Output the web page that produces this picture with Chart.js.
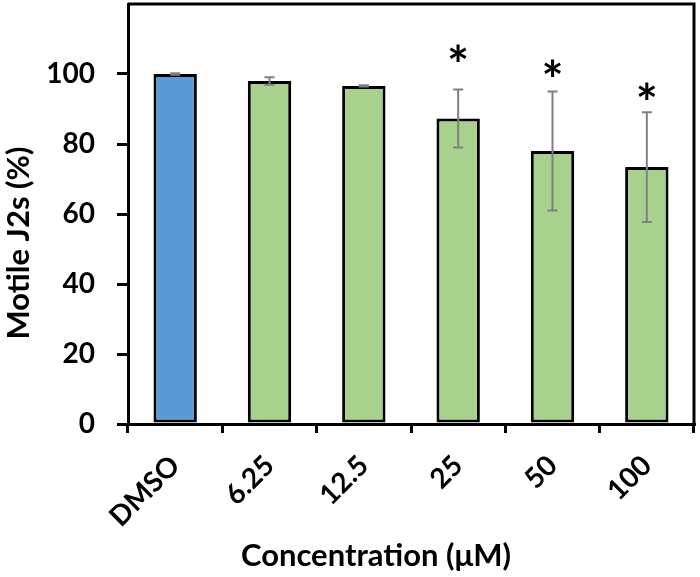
<!DOCTYPE html>
<html>
<head>
<meta charset="utf-8">
<script src="https://cdn.jsdelivr.net/npm/chart.js@4/dist/chart.umd.min.js"></script>
<style>
html,body{margin:0;padding:0;background:#fff;}
#wrap{width:700px;height:577px;}
</style>
</head>
<body>
<div id="wrap"><canvas id="c" width="700" height="577"></canvas></div>
<script>
const categories = ["DMSO", "6.25", "12.5", "25", "50", "100"];
const motile = [100, 98, 96.6, 87.3, 78, 73.4];
const errors = [0.2, 1.1, 0.2, 8.3, 17, 15.7];
const starLabels = ["", "", "", "*", "*", "*"];
const starValues = [null, null, null, 104.7, 100.4, 93.9];
const yTicks = [0, 20, 40, 60, 80, 100];
const barColors = ["#5b9bd5", "#a9d18e", "#a9d18e", "#a9d18e", "#a9d18e", "#a9d18e"];
const xTitle = "Concentration (μM)";
const yTitle = "Motile J2s (%)";

const FONT = "Lato, 'Open Sans', sans-serif";

const errorBarPlugin = {
  id: 'errorBars',
  afterDatasetsDraw(chart) {
    const ctx = chart.ctx, x = chart.scales.x, y = chart.scales.y;
    ctx.save();
    ctx.strokeStyle = '#808080';
    ctx.lineWidth = 2;
    motile.forEach((v, i) => {
      const cx = x.getPixelForValue(i);
      const yt = y.getPixelForValue(v + errors[i]);
      const yb = y.getPixelForValue(v - errors[i]);
      ctx.beginPath();
      ctx.moveTo(cx, yt); ctx.lineTo(cx, yb);
      ctx.moveTo(cx - 5, yt); ctx.lineTo(cx + 5, yt);
      ctx.moveTo(cx - 5, yb); ctx.lineTo(cx + 5, yb);
      ctx.stroke();
    });
    ctx.fillStyle = '#000';
    ctx.font = "bold 52px " + FONT;
    ctx.textAlign = 'center';
    ctx.textBaseline = 'middle';
    starLabels.forEach((s, i) => {
      if (!s) return;
      ctx.fillText(s, x.getPixelForValue(i), y.getPixelForValue(starValues[i]) + 10);
    });
    const a = chart.chartArea;
    ctx.strokeStyle = '#000';
    ctx.lineWidth = 3;
    ctx.beginPath();
    ctx.moveTo(a.left, a.top);
    ctx.lineTo(a.right, a.top);
    ctx.lineTo(a.right, a.bottom);
    ctx.stroke();
    // y title
    ctx.save();
    ctx.translate(19, 243);
    ctx.rotate(-Math.PI / 2);
    ctx.font = "bold 31px " + FONT;
    ctx.textAlign = 'center';
    ctx.textBaseline = 'middle';
    ctx.fillText(yTitle, 0, 0);
    ctx.restore();
    // x title
    ctx.font = "bold 31px " + FONT;
    ctx.textAlign = 'center';
    ctx.textBaseline = 'alphabetic';
    ctx.fillText(xTitle, 376, 566);
    ctx.restore();
  }
};

new Chart(document.getElementById('c'), {
  type: 'bar',
  data: {
    labels: categories,
    datasets: [{
      data: motile,
      backgroundColor: barColors,
      borderColor: '#000',
      borderWidth: 3,
      borderSkipped: false,
      categoryPercentage: 1,
      barPercentage: 0.46
    }]
  },
  options: {
    responsive: false,
    animation: false,
    devicePixelRatio: 1,
    layout: { padding: { top: 4, right: 6, left: 0, bottom: 0 } },
    plugins: { legend: { display: false }, tooltip: { enabled: false } },
    scales: {
      x: {
        afterFit(s) { s.height = 153; s.paddingLeft = 0; s.paddingRight = 0; s.paddingTop = 0; s.paddingBottom = 0; },
        grid: { display: true, drawOnChartArea: false, offset: true, color: '#000', lineWidth: 3, tickLength: 9 },
        border: { display: true, color: '#000', width: 3 },
        ticks: { color: '#000', font: { family: FONT, size: 28, weight: 'bold' }, minRotation: 45, maxRotation: 45, padding: 16 },
        title: { display: false }
      },
      y: {
        min: 0, max: 120,
        afterFit(s) { s.width = 128; s.paddingTop = 0; s.paddingBottom = 0; s.paddingLeft = 0; s.paddingRight = 0; },
        afterBuildTicks(s) { s.ticks = yTicks.map(v => ({ value: v })); },
        grid: { display: true, drawOnChartArea: false, color: '#000', lineWidth: 3, tickLength: 11 },
        border: { display: true, color: '#000', width: 3 },
        ticks: { color: '#000', font: { family: FONT, size: 28, weight: 'bold' }, padding: 22 }
      }
    }
  },
  plugins: [errorBarPlugin]
});
</script>
</body>
</html>
